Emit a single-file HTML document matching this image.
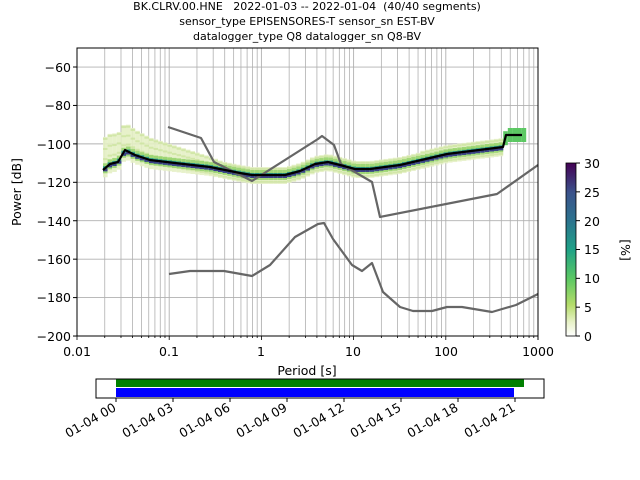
<!DOCTYPE html>
<html><head><meta charset="utf-8"><style>
html,body{margin:0;padding:0;background:#fff}
svg{display:block;font-family:"DejaVu Sans","Liberation Sans",sans-serif}
</style></head><body>
<svg id="s" width="640" height="480" viewBox="0 0 640 480" xmlns="http://www.w3.org/2000/svg">
<defs>
<linearGradient id="cb" x1="0" y1="1" x2="0" y2="0">
<stop offset="0" stop-color="#ffffff"/>
<stop offset="0.08" stop-color="#e8f2c8"/>
<stop offset="0.18" stop-color="#b5dc6a"/>
<stop offset="0.33" stop-color="#5cc863"/>
<stop offset="0.5" stop-color="#1fa187"/>
<stop offset="0.67" stop-color="#2c728e"/>
<stop offset="0.83" stop-color="#3b528b"/>
<stop offset="1" stop-color="#440154"/>
</linearGradient>
</defs>
<g id="grid"></g>
<g id="heat"></g>
<g id="lines"></g>
<rect x="77" y="48" width="461" height="288" fill="none" stroke="#000" stroke-width="1"/>
<g font-size="12.5" text-anchor="end" fill="#000">
<text x="71" y="72">−60</text><text x="71" y="110">−80</text><text x="71" y="149">−100</text>
<text x="71" y="187">−120</text><text x="71" y="226">−140</text><text x="71" y="264">−160</text>
<text x="71" y="302">−180</text><text x="71" y="341">−200</text>
</g>
<g font-size="12.5" text-anchor="middle">
<text x="77" y="356">0.01</text><text x="169" y="356">0.1</text><text x="261" y="356">1</text>
<text x="353" y="356">10</text><text x="446" y="356">100</text><text x="538" y="356">1000</text>
<text x="307" y="375">Period [s]</text>
</g>
<text transform="translate(21,192) rotate(-90)" font-size="12.5" text-anchor="middle">Power [dB]</text>
<g font-size="11" text-anchor="middle">
<text x="307" y="10">BK.CLRV.00.HNE&#160;&#160;&#160;2022-01-03 -- 2022-01-04&#160;&#160;(40/40 segments)</text>
<text x="307" y="25">sensor_type EPISENSORES-T sensor_sn EST-BV</text>
<text x="307" y="40">datalogger_type Q8 datalogger_sn Q8-BV</text>
</g>
<rect x="566" y="163" width="10" height="173" fill="url(#cb)" stroke="#000" stroke-width="0.8"/>
<g font-size="12.5">
<text x="584" y="168">30</text><text x="584" y="197">25</text><text x="584" y="226">20</text>
<text x="584" y="254">15</text><text x="584" y="283">10</text><text x="584" y="312">5</text><text x="584" y="341">0</text>
</g>
<g id="cbt" stroke="#000"></g>
<text transform="translate(621,250) rotate(90)" font-size="12.5" text-anchor="middle">[%]</text>
<rect x="116" y="379" width="408" height="8" fill="#008000"/>
<rect x="116" y="388" width="398" height="9" fill="#0000ff"/>
<rect x="96" y="379" width="448" height="19" fill="none" stroke="#000" stroke-width="1"/>
<g id="dt" font-size="12.5" text-anchor="end"></g>
</svg>
<script>
const NS="http://www.w3.org/2000/svg";
function el(p,t,a,txt){const e=document.createElementNS(NS,t);for(const k in a)e.setAttribute(k,a[k]);if(txt)e.textContent=txt;p.appendChild(e);return e;}
const X=p=>77+92.2*(Math.log10(p)+2), Y=d=>47.8+(-50-d)*1.9215;
const g=document.getElementById('grid');
for(let d=-2;d<3;d++)for(let m=1;m<10;m++){const x=X(m*Math.pow(10,d));el(g,'line',{x1:x,x2:x,y1:48,y2:336,stroke:'#b0b0b0','stroke-width':m==1?0.9:0.8});el(g,'line',{x1:x,x2:x,y1:336,y2:m==1?340:338,stroke:'#000','stroke-width':0.8});}
el(g,'line',{x1:538,x2:538,y1:336,y2:340,stroke:'#000'});
for(let v=-60;v>=-200;v-=20){const y=Y(v);el(g,'line',{x1:77,x2:538,y1:y,y2:y,stroke:'#b0b0b0','stroke-width':0.9});el(g,'line',{x1:73,x2:77,y1:y,y2:y,stroke:'#000'});}
const cbt=document.getElementById('cbt');
for(let i=0;i<=6;i++){const y=336-i*28.83;el(cbt,'line',{x1:576,x2:580,y1:y,y2:y});}
const mode=[[103,170],[110,164],[118,162],[125,150],[135,155],[150,160],[175,163],[210,167],[240,173],[252,175],[285,175],[300,171],[315,164],[328,162],[340,165],[355,169],[370,169],[400,165],[447,154],[503,147],[506,135],[522,135]];
function yAt(x){for(let i=0;i<mode.length-1;i++){if(x>=mode[i][0]&&x<=mode[i+1][0]){const t=(x-mode[i][0])/(mode[i+1][0]-mode[i][0]);return mode[i][1]+t*(mode[i+1][1]-mode[i][1]);}}return mode[mode.length-1][1];}
const h=document.getElementById('heat');
for(let x=103;x<522;x+=4.6){const y=yAt(x+2);
 let up=8,dn=9; if(x<220){up=8+Math.max(0,(220-x)/5);} if(x>420&&x<505){up=9;}
 if(x>503){el(h,'rect',{x:x,y:y-7,width:4.6,height:14,fill:'#5cc863'});continue;}
 el(h,'rect',{x:x,y:y-up,width:4.6,height:up+dn,fill:'#e4f0c4',opacity:0.9});
 for(let k=0;k<4;k++){el(h,'rect',{x:x,y:y-up+k*((up+dn)/4)+1,width:4.6,height:2,fill:'#c9e39a',opacity:0.7});}
 el(h,'rect',{x:x,y:y-5,width:4.6,height:10,fill:'#8fd162',opacity:0.8});
 el(h,'rect',{x:x,y:y-2,width:4.6,height:5,fill:'#2a9d8c'});
 el(h,'rect',{x:x,y:y,width:4.6,height:3,fill:'#3b3f86'});
}
const L=document.getElementById('lines');
function pl(pts,c,w){el(L,'polyline',{points:pts.map(p=>p.join(',')).join(' '),fill:'none',stroke:c,'stroke-width':w,'stroke-linejoin':'round'});}
pl([[168,127],[201,138],[214,162],[252,181],[318,139],[322,136],[334,145],[341,164],[372,182],[380,217],[497,194],[538,165]],'#666',2.2);
pl([[169,274],[190,271],[224,271],[252,276],[270,265],[295,237],[318,224],[324,223],[333,239],[352,265],[362,271],[372,263],[383,292],[400,307],[413,311],[432,311],[447,307],[462,307],[492,312],[516,305],[538,294]],'#666',2.2);
pl(mode,'#000',2.2);
const dt=document.getElementById('dt');
const labs=['01-04 00','01-04 03','01-04 06','01-04 09','01-04 12','01-04 15','01-04 18','01-04 21'];
labs.forEach((s,i)=>{const x=116+i*57;el(dt,'line',{x1:x,x2:x,y1:398,y2:402,stroke:'#000'});el(dt,'text',{transform:`translate(${x+1},${410}) rotate(-30)`},s);});
</script>
</body></html>
